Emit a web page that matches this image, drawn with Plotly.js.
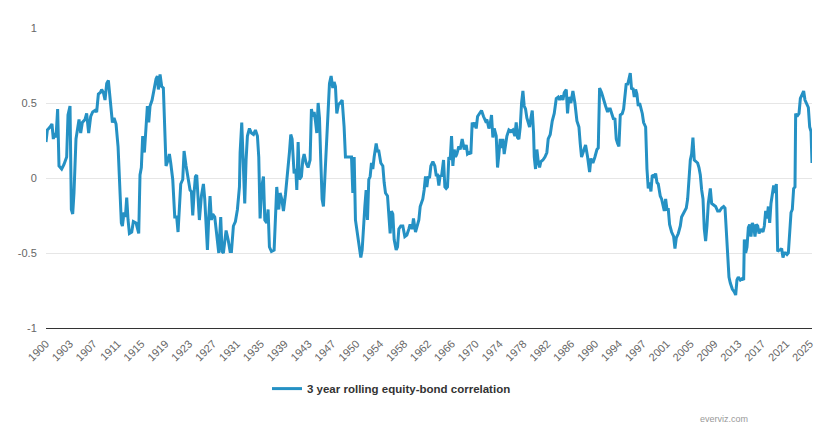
<!DOCTYPE html>
<html>
<head>
<meta charset="utf-8">
<script src="https://cdn.plot.ly/plotly-3.0.1.min.js"></script>
<style>html,body{margin:0;padding:0;background:#fff;}#chart{width:837px;height:442px;}</style>
</head>
<body>
<div id="chart"></div>
<script>
const seriesName = "3 year rolling equity-bond correlation";

const years = [
1900.00,1900.22,1900.66,1900.98,1901.20,1901.42,1901.64,1901.91,1902.13,1902.57,
1902.95,1903.39,1903.61,1903.94,1904.16,1904.38,1904.59,1904.92,1905.42,1905.69,
1905.96,1906.40,1906.67,1907.00,1907.33,1907.66,1908.04,1908.31,1908.59,1908.92,
1909.13,1909.41,1909.68,1909.96,1910.23,1910.50,1910.89,1911.16,1911.49,1911.82,
1912.14,1912.36,1912.53,1912.80,1913.02,1913.24,1913.46,1913.68,1914.06,1914.33,
1914.77,1915.21,1915.42,1915.64,1915.86,1916.14,1916.41,1916.63,1916.85,1917.07,
1917.40,1917.72,1918.05,1918.27,1918.43,1918.71,1918.98,1919.25,1919.47,1919.69,
1920.02,1920.24,1920.46,1920.79,1921.12,1921.44,1921.66,1921.88,1922.10,1922.43,
1922.65,1922.98,1923.30,1923.63,1923.85,1924.07,1924.29,1924.51,1924.72,1924.94,
1925.16,1925.49,1925.82,1926.04,1926.26,1926.48,1926.70,1926.91,1927.13,1927.35,
1927.68,1928.01,1928.34,1928.66,1928.88,1929.10,1929.32,1929.54,1929.87,1930.20,
1930.42,1930.74,1931.07,1931.40,1931.73,1931.84,1932.11,1932.38,1932.60,1932.82,
1933.04,1933.37,1933.70,1934.03,1934.35,1934.68,1934.90,1935.12,1935.39,1935.67,
1935.89,1936.21,1936.43,1936.65,1936.98,1937.42,1937.64,1937.85,1938.18,1938.40,
1938.67,1938.95,1939.28,1939.60,1939.93,1940.15,1940.37,1940.70,1940.97,1941.14,
1941.36,1941.57,1941.90,1942.12,1942.34,1942.67,1942.99,1943.32,1943.54,1943.76,
1943.98,1944.20,1944.42,1944.64,1944.86,1945.07,1945.29,1945.51,1945.84,1946.17,
1946.50,1946.77,1947.04,1947.26,1947.48,1947.70,1947.97,1948.25,1948.58,1948.90,
1949.12,1949.45,1949.78,1950.11,1950.33,1950.55,1950.76,1951.09,1951.37,1951.64,
1951.86,1952.08,1952.30,1952.51,1952.73,1952.95,1953.17,1953.39,1953.61,1953.83,
1954.16,1954.37,1954.59,1954.92,1955.25,1955.47,1955.69,1956.02,1956.23,1956.45,
1956.67,1956.89,1957.11,1957.44,1957.66,1957.88,1958.20,1958.53,1958.86,1959.19,
1959.52,1959.73,1960.06,1960.28,1960.61,1960.83,1961.16,1961.38,1961.60,1961.81,
1962.03,1962.25,1962.47,1962.69,1962.91,1963.13,1963.46,1963.78,1964.00,1964.22,
1964.44,1964.66,1964.88,1965.21,1965.43,1965.64,1965.86,1966.08,1966.30,1966.52,
1966.74,1966.96,1967.18,1967.39,1967.72,1967.94,1968.27,1968.60,1968.93,1969.14,
1969.47,1969.69,1969.91,1970.13,1970.35,1970.57,1970.79,1971.11,1971.44,1971.77,
1972.10,1972.32,1972.65,1972.86,1973.08,1973.30,1973.52,1973.85,1974.07,1974.29,
1974.51,1974.73,1974.94,1975.16,1975.38,1975.60,1975.93,1976.26,1976.58,1976.91,
1977.13,1977.35,1977.57,1977.79,1978.01,1978.23,1978.44,1978.66,1978.88,1979.10,
1979.32,1979.54,1979.76,1979.98,1980.09,1980.30,1980.52,1980.74,1980.96,1981.18,
1981.51,1981.84,1982.16,1982.38,1982.71,1983.04,1983.37,1983.70,1984.02,1984.24,
1984.57,1984.79,1985.01,1985.34,1985.55,1985.77,1986.10,1986.43,1986.76,1987.09,
1987.42,1987.63,1987.85,1988.18,1988.51,1988.84,1989.17,1989.38,1989.71,1990.04,
1990.37,1990.59,1990.81,1991.13,1991.46,1991.79,1992.12,1992.34,1992.56,1992.83,
1993.11,1993.32,1993.54,1993.76,1993.98,1994.20,1994.53,1994.75,1994.96,1995.18,
1995.40,1995.62,1995.84,1996.06,1996.28,1996.50,1996.72,1996.93,1997.15,1997.37,
1997.59,1997.81,1998.03,1998.36,1998.58,1998.79,1999.01,1999.23,1999.45,1999.78,
2000.00,2000.22,2000.43,2000.76,2000.98,2001.20,2001.42,2001.64,2001.86,2002.08,
2002.29,2002.62,2002.95,2003.17,2003.39,2003.72,2004.05,2004.26,2004.48,2004.70,
2005.03,2005.25,2005.47,2005.69,2005.90,2006.12,2006.34,2006.56,2006.89,2007.11,
2007.33,2007.55,2007.77,2007.98,2008.20,2008.42,2008.64,2008.97,2009.19,2009.52,
2009.84,2010.17,2010.50,2010.83,2011.16,2011.38,2011.59,2011.81,2012.03,2012.25,
2012.58,2012.91,2013.13,2013.34,2013.56,2013.89,2014.22,2014.44,2014.55,2014.77,
2014.99,2015.21,2015.42,2015.64,2015.86,2016.08,2016.30,2016.52,2016.74,2016.96,
2017.28,2017.61,2017.83,2018.05,2018.27,2018.49,2018.71,2018.92,2019.14,2019.36,
2019.58,2019.80,2020.02,2020.24,2020.46,2020.67,2020.89,2021.11,2021.33,2021.55,
2021.77,2021.99,2022.21,2022.42,2022.64,2022.86,2022.97,2023.19,2023.52,2023.74,
2024.07,2024.28,2024.50,2024.83,2025.05,2025.27,2025.49,2025.65
];

const corr = [
0.24,0.32,0.34,0.36,0.26,0.30,0.27,0.46,0.08,0.06,
0.09,0.14,0.42,0.48,-0.21,-0.24,-0.10,0.26,0.39,0.30,
0.37,0.39,0.43,0.30,0.41,0.44,0.45,0.44,0.56,0.57,
0.59,0.57,0.52,0.63,0.65,0.54,0.37,0.40,0.36,0.21,
-0.06,-0.30,-0.32,-0.23,-0.26,-0.13,-0.28,-0.37,-0.36,-0.29,
-0.30,-0.37,0.02,0.07,0.28,0.17,0.34,0.48,0.37,0.48,
0.52,0.60,0.66,0.68,0.59,0.69,0.61,0.60,0.34,0.08,
0.12,0.16,0.10,-0.01,-0.26,-0.26,-0.36,-0.23,-0.04,-0.01,
0.18,0.08,0.01,-0.08,-0.09,-0.25,-0.10,0.01,0.02,-0.14,
-0.28,-0.12,-0.04,-0.14,-0.32,-0.48,-0.26,-0.12,-0.28,-0.24,
-0.26,-0.39,-0.50,-0.26,-0.49,-0.50,-0.41,-0.35,-0.41,-0.49,
-0.49,-0.32,-0.29,-0.21,-0.06,0.17,0.37,0.12,-0.17,0.12,
0.28,0.33,0.30,0.29,0.32,0.28,0.14,-0.27,-0.06,0.01,
-0.28,-0.30,-0.21,-0.46,-0.49,-0.48,-0.26,-0.06,-0.21,-0.10,
-0.14,-0.22,-0.11,0.01,0.17,0.29,0.26,0.03,0.06,-0.08,
0.24,-0.01,0.01,0.12,0.16,0.10,0.07,0.12,0.46,0.41,
0.44,0.38,0.30,0.50,0.40,0.12,-0.14,-0.19,0.10,0.43,
0.63,0.68,0.60,0.64,0.61,0.43,0.49,0.50,0.52,0.34,
0.14,0.14,0.14,0.14,-0.10,0.14,-0.28,-0.37,-0.46,-0.53,
-0.48,-0.28,-0.19,-0.08,-0.28,-0.01,0.01,0.10,0.06,0.14,
0.23,0.18,0.18,0.10,0.08,-0.03,-0.10,-0.12,-0.23,-0.37,
-0.22,-0.24,-0.41,-0.48,-0.46,-0.34,-0.32,-0.32,-0.39,-0.38,
-0.34,-0.31,-0.34,-0.27,-0.36,-0.32,-0.28,-0.19,-0.17,-0.14,
-0.08,0.01,-0.06,0.01,0.00,0.08,0.11,0.08,0.02,0.02,
-0.05,0.02,0.01,0.12,-0.06,-0.07,-0.06,0.14,0.12,0.28,
0.08,0.19,0.14,0.16,0.21,0.19,0.26,0.19,0.22,0.16,
0.17,0.16,0.37,0.34,0.37,0.33,0.41,0.43,0.45,0.41,
0.38,0.39,0.33,0.36,0.42,0.27,0.33,0.28,0.07,0.16,
0.26,0.20,0.26,0.16,0.23,0.28,0.32,0.31,0.32,0.28,
0.37,0.27,0.26,0.34,0.50,0.58,0.48,0.46,0.40,0.36,
0.34,0.40,0.45,0.30,0.14,0.06,0.19,0.11,0.07,0.11,
0.12,0.14,0.17,0.26,0.29,0.38,0.43,0.53,0.54,0.52,
0.55,0.52,0.57,0.59,0.43,0.54,0.50,0.58,0.50,0.38,
0.34,0.23,0.14,0.18,0.22,0.14,0.04,0.13,0.10,0.14,
0.19,0.20,0.60,0.57,0.52,0.48,0.44,0.46,0.46,0.42,
0.39,0.40,0.26,0.23,0.21,0.42,0.43,0.46,0.54,0.63,
0.62,0.66,0.70,0.59,0.60,0.54,0.59,0.56,0.48,0.50,
0.47,0.43,0.37,0.34,0.06,-0.07,-0.03,-0.09,0.02,0.01,
0.03,-0.03,-0.04,-0.12,-0.14,-0.19,-0.22,-0.14,-0.21,-0.21,
-0.31,-0.36,-0.39,-0.47,-0.40,-0.37,-0.32,-0.26,-0.24,-0.22,
-0.20,-0.14,-0.03,0.12,0.16,0.27,0.12,0.11,0.10,0.07,
0.02,-0.08,-0.14,-0.34,-0.42,-0.32,-0.17,-0.07,-0.17,-0.18,
-0.19,-0.22,-0.22,-0.20,-0.19,-0.20,-0.37,-0.50,-0.66,-0.70,
-0.74,-0.76,-0.78,-0.68,-0.66,-0.68,-0.67,-0.68,-0.41,-0.50,
-0.46,-0.33,-0.31,-0.39,-0.30,-0.32,-0.39,-0.31,-0.32,-0.37,
-0.34,-0.36,-0.32,-0.22,-0.27,-0.19,-0.30,-0.17,-0.12,-0.05,
-0.10,-0.04,-0.49,-0.48,-0.48,-0.47,-0.53,-0.50,-0.50,-0.51,
-0.50,-0.37,-0.23,-0.21,-0.07,-0.06,0.43,0.41,0.43,0.53,
0.57,0.58,0.52,0.49,0.47,0.34,0.31,0.10
];

// x tick positions (every 47 months from Jan 1900) and their labels
const xTickVals = [1900,1903.917,1907.833,1911.75,1915.667,1919.583,1923.5,1927.417,1931.333,1935.25,
  1939.167,1943.083,1947,1950.917,1954.833,1958.75,1962.667,1966.583,1970.5,1974.417,
  1978.333,1982.25,1986.167,1990.083,1994,1997.917,2001.833,2005.75,2009.667,2013.583,
  2017.5,2021.417,2025.333];
const xTickLabels = ["1900","1903","1907","1911","1915","1919","1923","1927","1931","1935",
  "1939","1943","1947","1950","1954","1958","1962","1966","1970","1974",
  "1978","1982","1986","1990","1994","1997","2001","2005","2009","2013",
  "2017","2021","2025"];
const yTickVals = [-1,-0.5,0,0.5,1];
const yTickLabels = ["-1","-0.5","0","0.5","1"];

const FONT = '"Liberation Sans", Arial, Helvetica, sans-serif';

const trace = {
  x: years, y: corr, type: 'scatter', mode: 'lines',
  name: '<b>' + seriesName + '</b>',
  line: {color: '#2591c4', width: 3},
  hoverinfo: 'x+y'
};

const layout = {
  width: 837, height: 442,
  margin: {l: 46, r: 25, t: 28, b: 114, pad: 0},
  paper_bgcolor: '#ffffff', plot_bgcolor: '#ffffff',
  font: {family: FONT, color: '#666666', size: 11},
  showlegend: true,
  xaxis: {
    type: 'linear', range: [1900, 2025.65],
    tickmode: 'array', tickvals: xTickVals, ticktext: xTickLabels,
    tickangle: -45, tickfont: {size: 11, color: '#666666', family: FONT},
    showgrid: false, zeroline: false,
    showline: true, linecolor: '#333333', linewidth: 1,
    ticks: 'outside', ticklen: 4, tickcolor: 'rgba(0,0,0,0)',
    automargin: false, fixedrange: true
  },
  yaxis: {
    range: [-1, 1],
    tickmode: 'array', tickvals: yTickVals, ticktext: yTickLabels,
    tickfont: {size: 11, color: '#666666', family: FONT},
    showgrid: true, gridcolor: '#e6e6e6', gridwidth: 1,
    zeroline: false, showline: false,
    ticks: 'outside', ticklen: 6, tickcolor: 'rgba(0,0,0,0)',
    automargin: false, fixedrange: true
  },
  legend: {
    orientation: 'h', x: 0.2885, xanchor: 'left', y: -0.202, yanchor: 'middle',
    font: {size: 11.5, color: '#333333', family: FONT},
    bgcolor: 'rgba(0,0,0,0)'
  },
  annotations: [{
    text: 'everviz.com', xref: 'paper', yref: 'paper',
    x: 0.919, y: -0.302, xanchor: 'right', yanchor: 'middle',
    showarrow: false, font: {size: 9, color: '#999999', family: FONT}
  }]
};

Plotly.newPlot('chart', [trace], layout, {displayModeBar: false, staticPlot: true});
</script>
</body>
</html>
